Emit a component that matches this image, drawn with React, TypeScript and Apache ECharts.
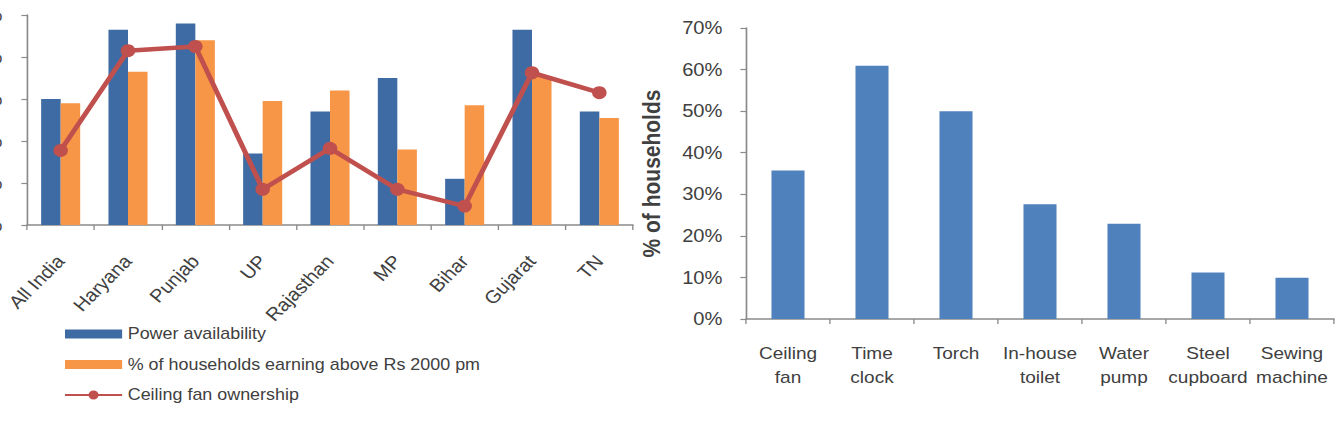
import React, { useEffect, useRef } from "react";
import * as echarts from "echarts";

const states = ["All India", "Haryana", "Punjab", "UP", "Rajasthan", "MP", "Bihar", "Gujarat", "TN"];
const powerAvailability = [60, 93, 96, 34, 54, 70, 22, 93, 54];
const householdsAbove2000 = [58, 73, 88, 59, 64, 36, 57, 71, 51];
const ceilingFanOwnership = [35.5, 83, 85, 17, 36.5, 17, 9, 72.5, 63];
const leftTicks = { min: 0, max: 100, interval: 20 };

const assets = ["Ceiling\nfan", "Time\nclock", "Torch", "In-house\ntoilet", "Water\npump", "Steel\ncupboard", "Sewing\nmachine"];
const assetShare = [35.7, 60.9, 50.0, 27.6, 22.9, 11.2, 9.9];
const rightTicks = { min: 0, max: 70, interval: 10 };

const S = 1.12;
const OFFSET = 70;
const W = 1257;
const toX = (px: number) => (px + OFFSET) / S;

const FONT = "'Liberation Sans', Arial, sans-serif";
const TXT = "#404040";
const AXIS = "#8a8a8a";
const LINE_ICON =
  "path://M0,3.6 L51,3.6 L51,5.4 L0,5.4 Z M21,4.5 A4.5,4.5 0 1,1 30,4.5 A4.5,4.5 0 1,1 21,4.5 Z";

export default function App() {
  const ref = useRef<HTMLDivElement>(null);
  useEffect(() => {
    if (!ref.current) return;
    const chart = echarts.init(ref.current, undefined, { renderer: "svg" });
    const lx0 = toX(27), lx1 = toX(633);
    const rx0 = toX(746), rx1 = toX(1334);
    const axisLine = { show: true, lineStyle: { color: AXIS, width: 1.5 } };
    const axisTick = { show: true, inside: false, length: 5, lineStyle: { color: AXIS, width: 1.2 } };
    chart.setOption({
      animation: false,
      textStyle: { fontFamily: FONT },
      grid: [
        { left: lx0, top: 15, width: lx1 - lx0, height: 210, containLabel: false },
        { left: rx0, top: 28, width: rx1 - rx0, height: 291, containLabel: false },
      ],
      legend: {
        orient: "vertical",
        left: toX(65),
        top: 324,
        padding: 0,
        itemWidth: 51,
        itemHeight: 9,
        itemGap: 10.5,
        textStyle: { fontSize: 16, color: TXT, fontFamily: FONT, lineHeight: 20 },
        data: [
          { name: "Power availability", icon: "rect" },
          { name: "% of households earning above Rs 2000 pm", icon: "rect" },
          { name: "Ceiling fan ownership", icon: LINE_ICON, itemStyle: { color: "#C0504D" } },
        ],
      },
      xAxis: [
        {
          type: "category",
          gridIndex: 0,
          data: states,
          axisLine,
          axisTick,
          axisLabel: { rotate: 48, margin: 33, fontSize: 18, color: TXT, fontFamily: FONT, interval: 0 },
        },
        {
          type: "category",
          gridIndex: 1,
          data: assets,
          axisLine,
          axisTick,
          axisLabel: { margin: 22, fontSize: 17, lineHeight: 24, color: TXT, fontFamily: FONT, interval: 0 },
        },
      ],
      yAxis: [
        {
          type: "value",
          gridIndex: 0,
          min: leftTicks.min,
          max: leftTicks.max,
          interval: leftTicks.interval,
          axisLine,
          axisTick,
          splitLine: { show: false },
          axisLabel: { margin: 22, fontSize: 18, color: TXT, fontFamily: FONT, formatter: "{value}%" },
        },
        {
          type: "value",
          gridIndex: 1,
          min: rightTicks.min,
          max: rightTicks.max,
          interval: rightTicks.interval,
          axisLine,
          axisTick,
          splitLine: { show: false },
          axisLabel: { margin: 21, fontSize: 18, color: TXT, fontFamily: FONT, formatter: "{value}%" },
          name: "% of households",
          nameLocation: "middle",
          nameRotate: 90,
          nameGap: rx0 - toX(664),
          nameTextStyle: { fontSize: 21, fontWeight: "bold", color: TXT, fontFamily: FONT },
        },
      ],
      series: [
        {
          name: "Power availability",
          type: "bar",
          xAxisIndex: 0,
          yAxisIndex: 0,
          data: powerAvailability,
          barGap: "0%",
          barCategoryGap: "42%",
          itemStyle: { color: "#3E6BA4" },
        },
        {
          name: "% of households earning above Rs 2000 pm",
          type: "bar",
          xAxisIndex: 0,
          yAxisIndex: 0,
          data: householdsAbove2000,
          barGap: "0%",
          barCategoryGap: "42%",
          itemStyle: { color: "#F79646" },
        },
        {
          name: "Ceiling fan ownership",
          type: "line",
          xAxisIndex: 0,
          yAxisIndex: 0,
          data: ceilingFanOwnership,
          symbol: "circle",
          symbolSize: 13,
          lineStyle: { color: "#C0504D", width: 4.5 },
          itemStyle: { color: "#C0504D" },
          z: 5,
        },
        {
          name: "Asset ownership",
          type: "bar",
          xAxisIndex: 1,
          yAxisIndex: 1,
          data: assetShare,
          barWidth: 29.5,
          itemStyle: { color: "#4F81BD" },
        },
      ],
    });
    return () => chart.dispose();
  }, []);
  return (
    <div style={{ position: "absolute", left: 0, top: 0, width: 1338, height: 434, overflow: "hidden", background: "#fff" }}>
      <div
        ref={ref}
        style={{
          position: "absolute",
          left: -OFFSET,
          top: 0,
          width: W,
          height: 434,
          transform: `scaleX(${S})`,
          transformOrigin: "0 0",
        }}
      />
    </div>
  );
}
